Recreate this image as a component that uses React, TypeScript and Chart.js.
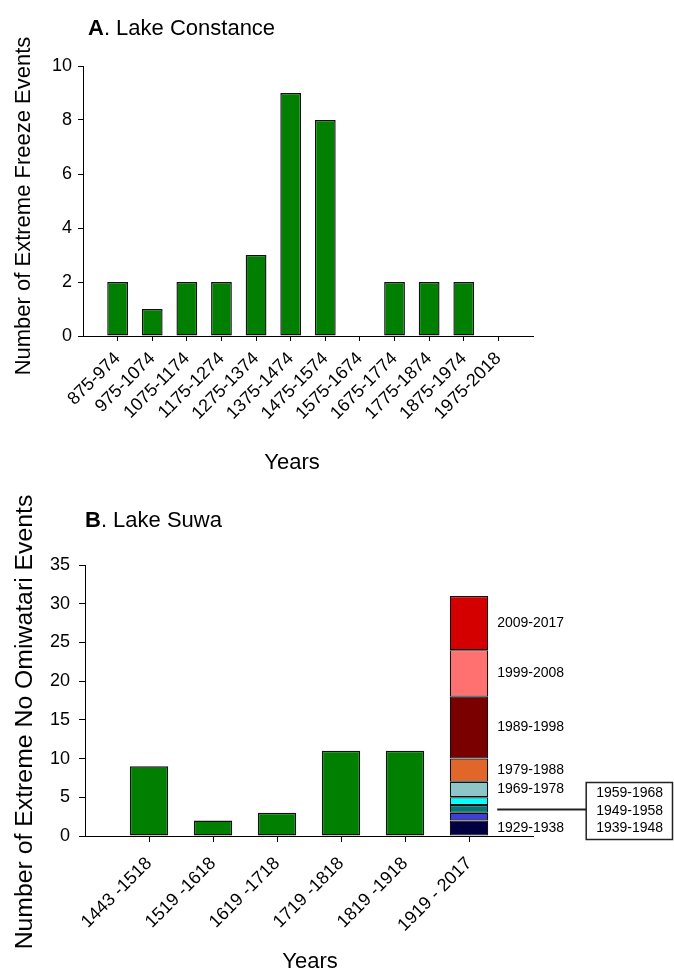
import React, { useEffect, useRef } from 'react';
import { Chart, registerables } from 'chart.js';

Chart.register(...registerables);

const FONT = "'Liberation Sans', Arial, Helvetica, sans-serif";

// ---- Panel A: Lake Constance ----
const constanceCategories = [
  '875-974', '975-1074', '1075-1174', '1175-1274', '1275-1374', '1375-1474',
  '1475-1574', '1575-1674', '1675-1774', '1775-1874', '1875-1974', '1975-2018',
];
const constanceValues = [2, 1, 2, 2, 3, 9, 8, 0, 2, 2, 2, 0];
const constanceYMin = 0;
const constanceYMax = 10;
const constanceYStep = 2;

// ---- Panel B: Lake Suwa ----
const suwaCategories = ['1443 -1518', '1519 -1618', '1619 -1718', '1719 -1818', '1819 -1918', '1919 - 2017'];
const suwaValues = [9, 2, 3, 11, 11];
const suwaYMin = 0;
const suwaYMax = 35;
const suwaYStep = 5;

const decadeLabels = [
  '1929-1938', '1939-1948', '1949-1958', '1959-1968', '1969-1978',
  '1979-1988', '1989-1998', '1999-2008', '2009-2017',
];
const decadeCounts = [2, 1, 1, 1, 2, 3, 8, 6, 7];
const decadeColors = [
  '#000040', '#3E3ED8', '#007878', '#00FFFF', '#8EC6C8',
  '#E0662A', '#7A0000', '#FF7070', '#D40000',
];
// decades labelled beside the bar vs. inside the callout box
const decadesBeside = [0, 4, 5, 6, 7, 8];
const decadesInBox = [3, 2, 1];

const GREEN = '#007F00';
const EDGE = '#111';
const EDGE_W = 1.4;

function hideEndTicks(n: number) {
  return (ctx: any) => (ctx.index === 0 || ctx.index === n - 1 ? 'rgba(0,0,0,0)' : '#000');
}

function makeTextPlugin(cfg: {
  letter: string; rest: string; tx: number; ty: number;
  yTitle: string; yFont: number; yx: number; yy: number;
  xTitle: string; xx: number; xy: number;
}) {
  return {
    id: 'panelText',
    afterDraw(chart: any) {
      const ctx = chart.ctx as CanvasRenderingContext2D;
      ctx.save();
      ctx.fillStyle = '#000';
      ctx.textBaseline = 'alphabetic';
      ctx.textAlign = 'left';
      ctx.font = `bold 22px ${FONT}`;
      ctx.fillText(cfg.letter, cfg.tx, cfg.ty);
      const w = ctx.measureText(cfg.letter).width;
      ctx.font = `22px ${FONT}`;
      ctx.fillText(cfg.rest, cfg.tx + w, cfg.ty);

      ctx.textAlign = 'center';
      ctx.font = `22px ${FONT}`;
      ctx.fillText(cfg.xTitle, cfg.xx, cfg.xy);

      ctx.translate(cfg.yx, cfg.yy);
      ctx.rotate(-Math.PI / 2);
      ctx.font = `${cfg.yFont}px ${FONT}`;
      ctx.fillText(cfg.yTitle, 0, 0);
      ctx.restore();
    },
  };
}

const suwaAnnotations = {
  id: 'suwaAnnotations',
  afterDraw(chart: any) {
    const ctx = chart.ctx as CanvasRenderingContext2D;
    const y = chart.scales.y;
    const lastDs = chart.getDatasetMeta(chart.data.datasets.length - 1);
    const bar = lastDs.data[suwaCategories.length];
    const barRight = bar.x + bar.width / 2;
    const starts: number[] = [];
    let acc = 0;
    decadeCounts.forEach((c) => { starts.push(acc); acc += c; });

    ctx.save();
    ctx.fillStyle = '#000';
    ctx.font = `14px ${FONT}`;
    ctx.textAlign = 'left';
    ctx.textBaseline = 'middle';
    decadesBeside.forEach((i) => {
      const py = y.getPixelForValue(starts[i] + decadeCounts[i] / 2);
      ctx.fillText(decadeLabels[i], barRight + 9, py);
    });

    const lineY = Math.round(y.getPixelForValue(starts[2] + decadeCounts[2] / 2)) + 0.5;
    const boxLeft = barRight + 98;
    ctx.strokeStyle = '#222';
    ctx.lineWidth = 2;
    ctx.beginPath();
    ctx.moveTo(barRight + 9, lineY);
    ctx.lineTo(boxLeft, lineY);
    ctx.stroke();
    ctx.lineWidth = 1.5;
    ctx.strokeRect(boxLeft, lineY - 27, chart.width - 1.5 - boxLeft, 57);
    const offs = [-16, 2, 19];
    decadesInBox.forEach((i, k) => {
      ctx.fillText(decadeLabels[i], boxLeft + 10, lineY + offs[k]);
    });
    ctx.restore();
  },
};

function ConstanceChart() {
  const ref = useRef<HTMLCanvasElement>(null);
  useEffect(() => {
    const labels = ['', ...constanceCategories, ''];
    const data = [null, ...constanceValues, null];
    const chart = new Chart(ref.current!, {
      type: 'bar',
      data: {
        labels,
        datasets: [{
          data,
          backgroundColor: GREEN,
          borderColor: EDGE,
          borderWidth: EDGE_W,
          borderSkipped: false,
          barPercentage: 0.6,
          categoryPercentage: 1,
        }],
      },
      options: {
        responsive: false,
        animation: false,
        devicePixelRatio: 1,
        layout: { padding: { left: 0, top: 66, right: 141, bottom: 0 } },
        plugins: { legend: { display: false }, tooltip: { enabled: false }, title: { display: false } },
        scales: {
          x: {
            type: 'category',
            offset: false,
            border: { display: true, color: '#000', width: 1 },
            grid: { display: true, offset: false, drawOnChartArea: false, drawTicks: true, tickLength: 5, tickColor: hideEndTicks(labels.length) },
            ticks: {
              autoSkip: false, minRotation: 45, maxRotation: 45, padding: 7,
              color: '#000', font: { family: FONT, size: 18 },
            },
            afterFit: (s: any) => { s.height = 144; },
          },
          y: {
            min: constanceYMin, max: constanceYMax,
            border: { display: true, color: '#000', width: 1 },
            grid: { display: true, drawOnChartArea: false, drawTicks: true, tickLength: 5, tickColor: '#000' },
            ticks: { stepSize: constanceYStep, padding: 6, color: '#000', font: { family: FONT, size: 18 } },
            afterFit: (s: any) => { s.width = 83; },
          },
        },
      },
      plugins: [makeTextPlugin({
        letter: 'A', rest: '. Lake Constance', tx: 88, ty: 35,
        yTitle: 'Number of Extreme Freeze Events', yFont: 22, yx: 30, yy: 206,
        xTitle: 'Years', xx: 292, xy: 469,
      })],
    } as any);
    return () => chart.destroy();
  }, []);
  return <canvas ref={ref} width={674} height={480} style={{ position: 'absolute', left: 0, top: 0, width: 674, height: 480 }} />;
}

function SuwaChart() {
  const ref = useRef<HTMLCanvasElement>(null);
  useEffect(() => {
    const labels = ['', ...suwaCategories, ''];
    const n = labels.length;
    const greenData = [null, ...suwaValues, null, null];
    const datasets: any[] = [{
      data: greenData,
      backgroundColor: GREEN,
      borderColor: EDGE,
      borderWidth: EDGE_W,
      borderSkipped: false,
      barPercentage: 0.6,
      categoryPercentage: 1,
    }];
    decadeCounts.forEach((c, i) => {
      const d: (number | null)[] = new Array(n).fill(null);
      d[suwaCategories.length] = c;
      datasets.push({
        label: decadeLabels[i],
        data: d,
        backgroundColor: decadeColors[i],
        borderColor: EDGE,
        borderWidth: 1.2,
        borderSkipped: false,
        barPercentage: 0.6,
        categoryPercentage: 1,
      });
    });
    const chart = new Chart(ref.current!, {
      type: 'bar',
      data: { labels, datasets },
      options: {
        responsive: false,
        animation: false,
        devicePixelRatio: 1,
        layout: { padding: { left: 0, top: 85, right: 141, bottom: 0 } },
        plugins: { legend: { display: false }, tooltip: { enabled: false }, title: { display: false } },
        scales: {
          x: {
            type: 'category',
            offset: false,
            stacked: true,
            border: { display: true, color: '#000', width: 1 },
            grid: { display: true, offset: false, drawOnChartArea: false, drawTicks: true, tickLength: 6, tickColor: hideEndTicks(n) },
            ticks: {
              autoSkip: false, minRotation: 45, maxRotation: 45, padding: 11,
              color: '#000', font: { family: FONT, size: 18 },
            },
            afterFit: (s: any) => { s.height = 134; },
          },
          y: {
            min: suwaYMin, max: suwaYMax,
            stacked: true,
            border: { display: true, color: '#000', width: 1 },
            grid: { display: true, drawOnChartArea: false, drawTicks: true, tickLength: 6, tickColor: '#000' },
            ticks: { stepSize: suwaYStep, padding: 9, color: '#000', font: { family: FONT, size: 18 } },
            afterFit: (s: any) => { s.width = 85; },
          },
        },
      },
      plugins: [makeTextPlugin({
        letter: 'B', rest: '. Lake Suwa', tx: 85, ty: 47,
        yTitle: 'Number of Extreme No Omiwatari Events', yFont: 24.8, yx: 32, yy: 242,
        xTitle: 'Years', xx: 310, xy: 488,
      }), suwaAnnotations],
    } as any);
    return () => chart.destroy();
  }, []);
  return <canvas ref={ref} width={674} height={490} style={{ position: 'absolute', left: 0, top: 480, width: 674, height: 490 }} />;
}

export default function App() {
  return (
    <div style={{ position: 'absolute', left: 0, top: 0, width: 674, height: 970, background: '#fff', overflow: 'hidden' }}>
      <ConstanceChart />
      <SuwaChart />
    </div>
  );
}
